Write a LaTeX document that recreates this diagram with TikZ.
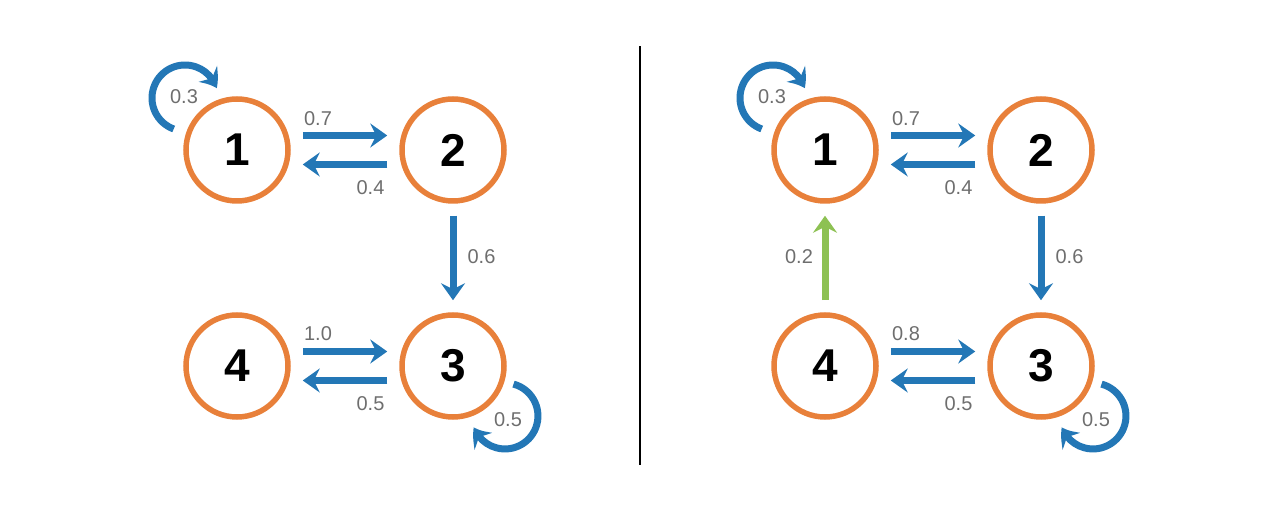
\documentclass[tikz,border=0pt]{standalone}
\usepackage{fontspec}
\setmainfont{Liberation Sans}
\usetikzlibrary{arrows.meta,bending}
\definecolor{stateorange}{HTML}{E8803A}
\definecolor{flowblue}{HTML}{2377B6}
\definecolor{flowgreen}{HTML}{8DC153}
\definecolor{probgrey}{HTML}{6E6E6E}
\begin{document}
\begin{tikzpicture}[x=1pt,y=1pt,
  state/.style={circle,draw=stateorange,line width=5.5pt,minimum size=102pt,
    inner sep=0pt,font=\fontsize{46}{46}\selectfont\bfseries},
  flow/.style={draw=flowblue,line width=7pt,
    -{Stealth[length=17pt,width=24pt,inset=6pt]},shorten <=12pt,shorten >=12pt},
  selfflow/.style={draw=flowblue,line width=7pt,
    -{Stealth[length=17pt,width=24pt,inset=6pt,bend]}},
  prob/.style={text=probgrey,font=\fontsize{20}{20}\selectfont}]
  \useasboundingbox (0,0) rectangle (1280,519);

  % Left chain
  \node[state] (a1) at (237,369) {1};
  \node[state] (a2) at (453,369) {2};
  \node[state] (a3) at (453,153) {3};
  \node[state] (a4) at (237,153) {4};

  \draw[flow] ([yshift=14.5pt]a1.east) -- ([yshift=14.5pt]a2.west);
  \draw[flow] ([yshift=-14.5pt]a2.west) -- ([yshift=-14.5pt]a1.east);
  \draw[flow] (a2.south) -- (a3.north);
  \draw[flow] ([yshift=14.5pt]a4.east) -- ([yshift=14.5pt]a3.west);
  \draw[flow] ([yshift=-14.5pt]a3.west) -- ([yshift=-14.5pt]a4.east);
  \draw[selfflow] ([shift={(-63.3,21)}]a1.center) arc[start angle=250,end angle=17,radius=33];
  \draw[selfflow] ([shift={(60.5,-18.1)}]a3.center) arc[start angle=75,end angle=-160,radius=33];

  \node[prob] (pa12) at (318,400) {0.7};
  \node[prob] (pa21) at (370.5,331) {0.4};
  \node[prob] (pa23) at (481.5,262.5) {0.6};
  \node[prob] (pa43) at (318,185) {1.0};
  \node[prob] (pa34) at (370.5,115) {0.5};
  \node[prob] (pa11) at (184,422) {0.3};
  \node[prob] (pa33) at (508,99) {0.5};

  % Divider
  \draw[line width=2pt] (640,54) -- (640,473);

  % Right chain
  \node[state] (b1) at (825,369) {1};
  \node[state] (b2) at (1041,369) {2};
  \node[state] (b3) at (1041,153) {3};
  \node[state] (b4) at (825,153) {4};

  \draw[flow] ([yshift=14.5pt]b1.east) -- ([yshift=14.5pt]b2.west);
  \draw[flow] ([yshift=-14.5pt]b2.west) -- ([yshift=-14.5pt]b1.east);
  \draw[flow] (b2.south) -- (b3.north);
  \draw[flow] ([yshift=14.5pt]b4.east) -- ([yshift=14.5pt]b3.west);
  \draw[flow] ([yshift=-14.5pt]b3.west) -- ([yshift=-14.5pt]b4.east);
  \draw[flow,draw=flowgreen] (b4.north) -- (b1.south);
  \draw[selfflow] ([shift={(-63.3,21)}]b1.center) arc[start angle=250,end angle=17,radius=33];
  \draw[selfflow] ([shift={(60.5,-18.1)}]b3.center) arc[start angle=75,end angle=-160,radius=33];

  \node[prob] (pb12) at (906,400) {0.7};
  \node[prob] (pb21) at (958.5,331) {0.4};
  \node[prob] (pb23) at (1069.5,262.5) {0.6};
  \node[prob] (pb43) at (906,185) {0.8};
  \node[prob] (pb34) at (958.5,115) {0.5};
  \node[prob] (pb11) at (772,422) {0.3};
  \node[prob] (pb33) at (1096,99) {0.5};
  \node[prob] (pb41) at (799,262) {0.2};
\end{tikzpicture}
\end{document}
